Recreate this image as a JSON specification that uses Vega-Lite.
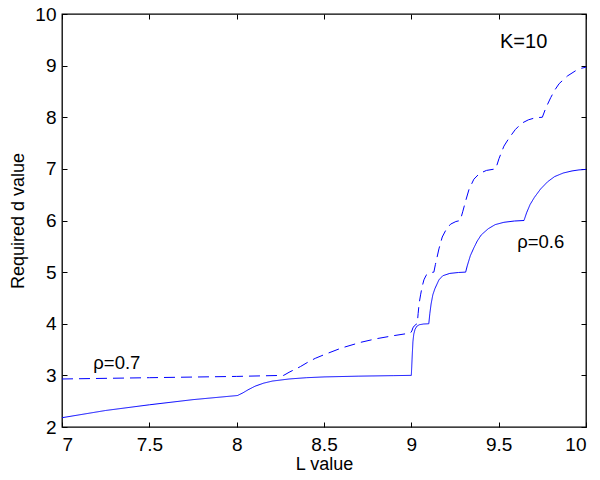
{
  "$schema": "https://vega.github.io/schema/vega-lite/v6.json",
  "width": 524,
  "height": 413,
  "autosize": {"type": "none"},
  "padding": {"left": 62, "top": 14, "right": 14, "bottom": 53},
  "background": "white",
  "config": {
    "view": {"stroke": "black", "strokeWidth": 1.3},
    "font": "Liberation Sans",
    "axis": {
      "grid": false,
      "domain": false,
      "tickColor": "black",
      "tickWidth": 1,
      "labelColor": "black",
      "titleColor": "black",
      "labelFont": "Liberation Sans",
      "titleFont": "Liberation Sans",
      "labelFontSize": 19,
      "titleFontSize": 18,
      "titleFontWeight": "normal"
    }
  },
  "datasets": {
    "curves": [
      {"L": 7.0, "d": 2.18, "rho": "0.6"},
      {"L": 7.25, "d": 2.32, "rho": "0.6"},
      {"L": 7.5, "d": 2.43, "rho": "0.6"},
      {"L": 7.75, "d": 2.53, "rho": "0.6"},
      {"L": 8.005, "d": 2.61, "rho": "0.6"},
      {"L": 8.035, "d": 2.66, "rho": "0.6"},
      {"L": 8.065, "d": 2.72, "rho": "0.6"},
      {"L": 8.105, "d": 2.79, "rho": "0.6"},
      {"L": 8.155, "d": 2.85, "rho": "0.6"},
      {"L": 8.205, "d": 2.89, "rho": "0.6"},
      {"L": 8.3, "d": 2.93, "rho": "0.6"},
      {"L": 8.4, "d": 2.955, "rho": "0.6"},
      {"L": 8.5, "d": 2.97, "rho": "0.6"},
      {"L": 8.7, "d": 2.985, "rho": "0.6"},
      {"L": 8.9, "d": 2.995, "rho": "0.6"},
      {"L": 9.0, "d": 3.0, "rho": "0.6"},
      {"L": 9.004, "d": 3.3, "rho": "0.6"},
      {"L": 9.009, "d": 3.65, "rho": "0.6"},
      {"L": 9.014, "d": 3.8, "rho": "0.6"},
      {"L": 9.021, "d": 3.89, "rho": "0.6"},
      {"L": 9.031, "d": 3.95, "rho": "0.6"},
      {"L": 9.045, "d": 3.98, "rho": "0.6"},
      {"L": 9.07, "d": 3.995, "rho": "0.6"},
      {"L": 9.1, "d": 4.0, "rho": "0.6"},
      {"L": 9.106, "d": 4.2, "rho": "0.6"},
      {"L": 9.113, "d": 4.38, "rho": "0.6"},
      {"L": 9.123, "d": 4.56, "rho": "0.6"},
      {"L": 9.135, "d": 4.68, "rho": "0.6"},
      {"L": 9.158, "d": 4.85, "rho": "0.6"},
      {"L": 9.18, "d": 4.93, "rho": "0.6"},
      {"L": 9.22, "d": 4.975, "rho": "0.6"},
      {"L": 9.27, "d": 4.993, "rho": "0.6"},
      {"L": 9.311, "d": 5.0, "rho": "0.6"},
      {"L": 9.32, "d": 5.12, "rho": "0.6"},
      {"L": 9.338, "d": 5.32, "rho": "0.6"},
      {"L": 9.358, "d": 5.47, "rho": "0.6"},
      {"L": 9.377, "d": 5.6, "rho": "0.6"},
      {"L": 9.4, "d": 5.72, "rho": "0.6"},
      {"L": 9.44, "d": 5.84, "rho": "0.6"},
      {"L": 9.48, "d": 5.92, "rho": "0.6"},
      {"L": 9.53, "d": 5.965, "rho": "0.6"},
      {"L": 9.59, "d": 5.99, "rho": "0.6"},
      {"L": 9.645, "d": 6.0, "rho": "0.6"},
      {"L": 9.66, "d": 6.15, "rho": "0.6"},
      {"L": 9.68, "d": 6.31, "rho": "0.6"},
      {"L": 9.705, "d": 6.45, "rho": "0.6"},
      {"L": 9.74, "d": 6.61, "rho": "0.6"},
      {"L": 9.78, "d": 6.75, "rho": "0.6"},
      {"L": 9.82, "d": 6.85, "rho": "0.6"},
      {"L": 9.87, "d": 6.92, "rho": "0.6"},
      {"L": 9.92, "d": 6.96, "rho": "0.6"},
      {"L": 9.96, "d": 6.98, "rho": "0.6"},
      {"L": 10.0, "d": 6.99, "rho": "0.6"},

      {"L": 7.0, "d": 2.93, "rho": "0.7"},
      {"L": 7.5, "d": 2.955, "rho": "0.7"},
      {"L": 8.0, "d": 2.98, "rho": "0.7"},
      {"L": 8.269, "d": 3.0, "rho": "0.7"},
      {"L": 8.3, "d": 3.06, "rho": "0.7"},
      {"L": 8.365, "d": 3.17, "rho": "0.7"},
      {"L": 8.41, "d": 3.26, "rho": "0.7"},
      {"L": 8.45, "d": 3.33, "rho": "0.7"},
      {"L": 8.5, "d": 3.40, "rho": "0.7"},
      {"L": 8.6, "d": 3.53, "rho": "0.7"},
      {"L": 8.71, "d": 3.64, "rho": "0.7"},
      {"L": 8.8, "d": 3.71, "rho": "0.7"},
      {"L": 8.9, "d": 3.77, "rho": "0.7"},
      {"L": 8.995, "d": 3.82, "rho": "0.7"},
      {"L": 9.003, "d": 3.86, "rho": "0.7"},
      {"L": 9.009, "d": 3.92, "rho": "0.7"},
      {"L": 9.017, "d": 3.96, "rho": "0.7"},
      {"L": 9.028, "d": 3.99, "rho": "0.7"},
      {"L": 9.034, "d": 4.0, "rho": "0.7"},
      {"L": 9.039, "d": 4.2, "rho": "0.7"},
      {"L": 9.045, "d": 4.4, "rho": "0.7"},
      {"L": 9.053, "d": 4.56, "rho": "0.7"},
      {"L": 9.062, "d": 4.72, "rho": "0.7"},
      {"L": 9.072, "d": 4.85, "rho": "0.7"},
      {"L": 9.085, "d": 4.94, "rho": "0.7"},
      {"L": 9.1, "d": 4.985, "rho": "0.7"},
      {"L": 9.129, "d": 5.0, "rho": "0.7"},
      {"L": 9.138, "d": 5.15, "rho": "0.7"},
      {"L": 9.158, "d": 5.45, "rho": "0.7"},
      {"L": 9.177, "d": 5.68, "rho": "0.7"},
      {"L": 9.2, "d": 5.83, "rho": "0.7"},
      {"L": 9.225, "d": 5.93, "rho": "0.7"},
      {"L": 9.255, "d": 5.98, "rho": "0.7"},
      {"L": 9.28, "d": 6.0, "rho": "0.7"},
      {"L": 9.295, "d": 6.18, "rho": "0.7"},
      {"L": 9.311, "d": 6.38, "rho": "0.7"},
      {"L": 9.33, "d": 6.6, "rho": "0.7"},
      {"L": 9.358, "d": 6.8, "rho": "0.7"},
      {"L": 9.39, "d": 6.91, "rho": "0.7"},
      {"L": 9.43, "d": 6.97, "rho": "0.7"},
      {"L": 9.483, "d": 7.0, "rho": "0.7"},
      {"L": 9.502, "d": 7.2, "rho": "0.7"},
      {"L": 9.53, "d": 7.44, "rho": "0.7"},
      {"L": 9.56, "d": 7.6, "rho": "0.7"},
      {"L": 9.595, "d": 7.76, "rho": "0.7"},
      {"L": 9.63, "d": 7.88, "rho": "0.7"},
      {"L": 9.67, "d": 7.95, "rho": "0.7"},
      {"L": 9.71, "d": 7.99, "rho": "0.7"},
      {"L": 9.75, "d": 8.0, "rho": "0.7"},
      {"L": 9.77, "d": 8.18, "rho": "0.7"},
      {"L": 9.798, "d": 8.38, "rho": "0.7"},
      {"L": 9.82, "d": 8.52, "rho": "0.7"},
      {"L": 9.846, "d": 8.65, "rho": "0.7"},
      {"L": 9.894, "d": 8.8, "rho": "0.7"},
      {"L": 9.94, "d": 8.9, "rho": "0.7"},
      {"L": 9.975, "d": 8.95, "rho": "0.7"},
      {"L": 10.0, "d": 8.97, "rho": "0.7"}
    ],
    "labels": [
      {"L": 9.643, "d": 9.45, "text": "K=10", "size": 20},
      {"L": 7.314, "d": 3.24, "text": "ρ=0.7", "size": 18.5},
      {"L": 9.741, "d": 5.58, "text": "ρ=0.6", "size": 18.5}
    ]
  },
  "resolve": {"axis": {"x": "independent", "y": "independent"}},
  "layer": [
    {
      "data": {"name": "curves"},
      "mark": {"type": "line", "color": "#0000ff", "strokeWidth": 1, "clip": true},
      "encoding": {
        "x": {"field": "L", "type": "quantitative", "scale": {"domain": [7, 10], "nice": false}, "axis": {"values": [7, 7.5, 8, 8.5, 9, 9.5, 10], "format": "~g", "ticks": false, "labelPadding": 8, "title": "L value", "titlePadding": 1}},
        "y": {"field": "d", "type": "quantitative", "scale": {"domain": [2, 10], "nice": false}, "axis": {"values": [2, 3, 4, 5, 6, 7, 8, 9, 10], "ticks": false, "labelPadding": 6, "title": "Required d value", "titlePadding": 7}},
        "detail": {"field": "rho"},
        "strokeDash": {"field": "rho", "type": "nominal", "scale": {"domain": ["0.6", "0.7"], "range": [[1, 0], [11, 6]]}, "legend": null}
      }
    },
    {
      "data": {"name": "labels"},
      "mark": {"type": "text", "font": "Liberation Sans", "color": "black", "align": "center", "baseline": "middle"},
      "encoding": {
        "x": {"field": "L", "type": "quantitative", "scale": {"domain": [7, 10], "nice": false}, "axis": {"orient": "top", "offset": -413, "values": [7, 7.5, 8, 8.5, 9, 9.5, 10], "tickSize": 5, "labels": false, "title": null}},
        "y": {"field": "d", "type": "quantitative", "scale": {"domain": [2, 10], "nice": false}, "axis": {"orient": "right", "offset": -524, "values": [2, 3, 4, 5, 6, 7, 8, 9, 10], "tickSize": 5, "labels": false, "title": null}},
        "text": {"field": "text"},
        "size": {"field": "size", "type": "quantitative", "scale": null}
      }
    },
    {
      "data": {"name": "labels"},
      "mark": {"type": "point", "opacity": 0},
      "encoding": {
        "x": {"field": "L", "type": "quantitative", "scale": {"domain": [7, 10], "nice": false}, "axis": {"orient": "bottom", "offset": -413, "values": [7, 7.5, 8, 8.5, 9, 9.5, 10], "tickSize": 5, "labels": false, "title": null}},
        "y": {"field": "d", "type": "quantitative", "scale": {"domain": [2, 10], "nice": false}, "axis": {"orient": "left", "offset": -524, "values": [2, 3, 4, 5, 6, 7, 8, 9, 10], "tickSize": 5, "labels": false, "title": null}}
      }
    }
  ]
}
